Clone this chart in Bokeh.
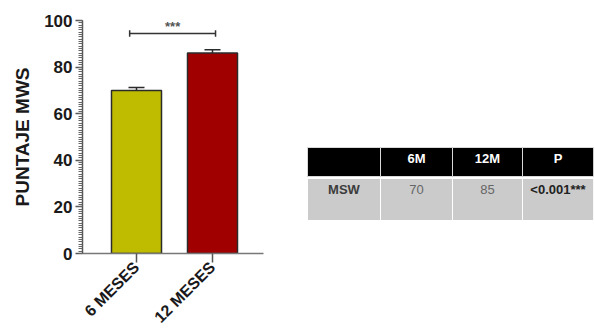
from math import pi
from bokeh.plotting import figure
from bokeh.models import (Range1d, FixedTicker, Whisker, TeeHead, ColumnDataSource)
from bokeh.core.properties import value
from bokeh.embed import file_html
from bokeh.resources import INLINE

# ---- data ----
categories = ["6 MESES", "12 MESES"]
means = [70.0, 86.1]
sems = [1.2, 1.3]
bar_colors = ["#bfbc00", "#a00000"]
y_ticks = [0, 20, 40, 60, 80, 100]
sig_label = "***"

table_columns = ["", "6M", "12M", "P"]
table_row = ["MSW", "70", "85", "<0.001***"]

FONT = "Liberation Sans"

# ---- figure (frame spans page x 82..593, y 20..253) ----
xs = [1, 2]
x_start = 0.2895
px_per_unit = 76.0
x_end = x_start + (593 - 82) / px_per_unit
p = figure(width=595, height=334, output_backend="svg", toolbar_location=None,
           x_range=Range1d(x_start, x_end), y_range=Range1d(0, 100),
           min_border_left=82, min_border_right=2, min_border_top=20,
           min_border_bottom=81)
p.outline_line_color = None
p.grid.visible = False
p.extra_x_ranges = {"tx": Range1d(82, 593)}
p.extra_y_ranges = {"ty": Range1d(253, 20)}

src = ColumnDataSource(dict(x=xs, top=means, color=bar_colors,
                            upper=[m + s for m, s in zip(means, sems)]))
p.vbar(x="x", top="top", width=0.658, bottom=0, source=src,
       fill_color="color", line_color="#2b2b2b", line_width=1.5)

w = Whisker(base="x", upper="upper", lower="top", source=src,
            line_color="#2b2b2b", line_width=1.5,
            upper_head=TeeHead(size=16, line_color="#2b2b2b", line_width=1.5),
            lower_head=None)
p.add_layout(w)

# significance bracket
y_br = max(m + s for m, s in zip(means, sems)) + 7
x0, x1 = xs[0] - 0.09, xs[1] + 0.04
p.segment(x0=[x0], y0=[y_br], x1=[x1], y1=[y_br], line_color="#333333", line_width=1.5)
p.segment(x0=[x0, x1], y0=[y_br - 1.4] * 2, x1=[x0, x1], y1=[y_br + 1.4] * 2,
          line_color="#333333", line_width=1.5)
p.text(x=[(x0 + x1) / 2], y=[y_br + 3.2], text=[sig_label],
       text_align="center", text_baseline="middle",
       text_font=value(FONT), text_font_size="13px", text_font_style="bold",
       text_color="#555555")

# y axis
ya = p.yaxis[0]
ya.ticker = FixedTicker(ticks=y_ticks, minor_ticks=list(range(0, 101)))
ya.axis_label = "PUNTAJE MWS"
ya.axis_label_text_font = FONT
ya.axis_label_text_font_size = "19px"
ya.axis_label_text_font_style = "bold"
ya.axis_label_text_color = "#1a1a1a"
ya.axis_label_standoff = 8
ya.major_label_text_font = FONT
ya.major_label_text_font_size = "17px"
ya.major_label_text_font_style = "bold"
ya.major_label_text_color = "#1a1a1a"
ya.major_label_standoff = 3
ya.axis_line_color = "#555555"
ya.axis_line_width = 1.5
ya.major_tick_out = 7
ya.major_tick_in = 0
ya.minor_tick_out = 4
ya.minor_tick_in = 0
ya.major_tick_line_color = "#555555"
ya.major_tick_line_width = 1.5
ya.minor_tick_line_color = "#666666"

# x axis (line limited to the chart part)
xa = p.xaxis[0]
xa.bounds = (x_start, 2 + 51 / px_per_unit)
xa.ticker = FixedTicker(ticks=xs)
xa.major_label_overrides = {x: c for x, c in zip(xs, categories)}
xa.major_label_orientation = pi / 4
xa.major_label_text_font = FONT
xa.major_label_text_font_size = "16px"
xa.major_label_text_font_style = "bold"
xa.major_label_text_color = "#1a1a1a"
xa.major_label_standoff = 2
xa.axis_line_color = "#777777"
xa.axis_line_width = 1.5
xa.major_tick_out = 9
xa.major_tick_in = 0
xa.major_tick_line_color = "#555555"
xa.major_tick_line_width = 1.5
xa.minor_tick_line_color = None

# ---- table (page-pixel coordinates via extra ranges) ----
col_edges = [307, 380, 452, 522, 593]
lefts = col_edges[:-1]
rights = col_edges[1:]
centers = [(a + b) / 2 for a, b in zip(lefts, rights)]
t_kw = dict(x_range_name="tx", y_range_name="ty")
p.quad(left=lefts, right=rights, top=[147] * 4, bottom=[176] * 4,
       fill_color="black", line_color="#d9d9d9", line_width=1, **t_kw)
p.quad(left=lefts, right=rights, top=[178] * 4, bottom=[220] * 4,
       fill_color="#cbcbcb", line_color="white", line_width=1, **t_kw)

p.text(x=centers, y=[158] * 4, text=table_columns, text_align="center",
       text_baseline="middle", text_font=value(FONT), text_font_size="13px",
       text_font_style="bold", text_color="white", **t_kw)
styles = ["bold", "normal", "normal", "bold"]
colors = ["#3c3c3c", "#666666", "#666666", "#222222"]
for cx, txt, st, co in zip(centers, table_row, styles, colors):
    p.text(x=[cx], y=[189], text=[txt], text_align="center", text_baseline="middle",
           text_font=value(FONT), text_font_size="13px", text_font_style=st,
           text_color=co, **t_kw)

open("out.html", "w").write(file_html(p, INLINE))
